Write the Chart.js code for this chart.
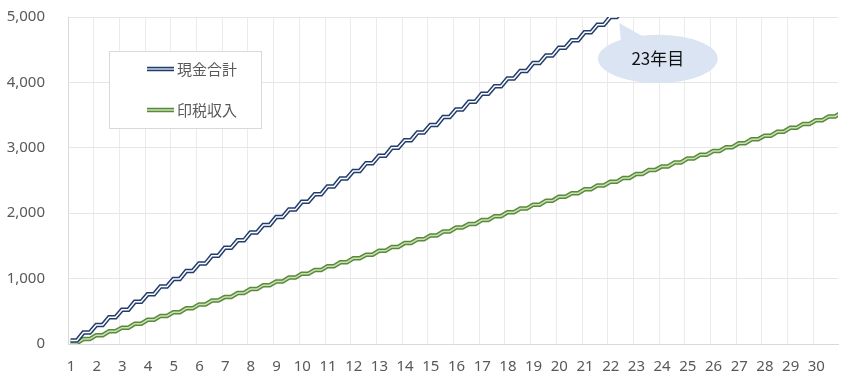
<!DOCTYPE html>
<html lang="ja">
<head>
    <meta charset="UTF-8">
    <title>現金合計と印税収入</title>
    <script src="https://cdn.jsdelivr.net/npm/chart.js"></script>
    <style>
        html, body { margin: 0; padding: 0; background: #fff; }
        #wrap { width: 846px; height: 381px; }
    </style>
</head>
<body>
    <div id="wrap"><canvas id="chart" width="846" height="381"></canvas></div>

    <script>
        // year labels on the x axis
        const years = [1, 2, 3, 4, 5, 6, 7, 8, 9, 10, 11, 12, 13, 14, 15,
                       16, 17, 18, 19, 20, 21, 22, 23, 24, 25, 26, 27, 28, 29, 30];
        const yTicks = [0, 1000, 2000, 3000, 4000, 5000];
        const seriesNames = ['現金合計', '印税収入'];

        // values read every half year (year 1 onwards), held flat then rising
        const cashTotal = [55, 175, 290, 410, 525, 645, 760, 880, 995, 1115,
                           1230, 1350, 1470, 1585, 1705, 1820, 1940, 2055, 2175, 2290,
                           2410, 2530, 2645, 2765, 2880, 3000, 3115, 3235, 3350, 3470,
                           3585, 3705, 3825, 3940, 4060, 4175, 4295, 4410, 4530, 4645,
                           4765, 4880, 5000, 5120];
        const royalties = [15, 75, 135, 195, 250, 310, 370, 430, 485, 545,
                           605, 665, 720, 780, 840, 900, 955, 1015, 1075, 1130,
                           1190, 1250, 1310, 1365, 1425, 1485, 1545, 1600, 1660, 1720,
                           1780, 1835, 1895, 1955, 2015, 2070, 2130, 2190, 2250, 2305,
                           2365, 2425, 2480, 2540, 2600, 2660, 2715, 2775, 2835, 2895,
                           2950, 3010, 3070, 3130, 3185, 3245, 3305, 3365, 3420, 3480,
                           3540];

        const calloutText = '23年目';

        const firstPoint = 1.1;   // where the first half-year value sits on the year axis

        const textFont = '"Noto Sans", "Noto Sans CJK JP", sans-serif';
        const cjkFont = '"Noto Sans CJK JP", "Noto Sans", sans-serif';
        const tickColor = '#595959';

        const colors = {
            cash: { outer: '#223c6c', inner: '#ffffff', swatchInner: '#c9d5ea' },
            royalty: { outer: '#588a38', inner: '#c9e0b6', swatchInner: '#c9e0b6' }
        };

        function halfYearPoints(values) {
            const pts = [];
            values.forEach((v, k) => {
                const x = firstPoint + k * 0.5;
                pts.push({ x: x, y: v });
                pts.push({ x: x + 0.25, y: v });
            });
            return pts;
        }

        function lineSet(label, values, color, width, order) {
            return {
                label: label,
                data: halfYearPoints(values),
                borderColor: color,
                borderWidth: width,
                pointRadius: 0,
                tension: 0,
                fill: false,
                order: order
            };
        }

        // legend box and speech bubble
        const decorPlugin = {
            id: 'decor',
            afterDatasetsDraw(chart) {
                const ctx = chart.ctx;
                const xs = chart.scales.x, ys = chart.scales.y;

                // legend
                ctx.save();
                ctx.strokeStyle = '#d9d9d9';
                ctx.lineWidth = 1;
                ctx.fillStyle = '#ffffff';
                ctx.fillRect(109.5, 51.5, 152, 77);
                ctx.strokeRect(109.5, 51.5, 152, 77);
                const entries = [
                    { name: seriesNames[0], c: colors.cash, y: 69 },
                    { name: seriesNames[1], c: colors.royalty, y: 110 }
                ];
                entries.forEach(e => {
                    ctx.beginPath();
                    ctx.moveTo(147, e.y);
                    ctx.lineTo(174, e.y);
                    ctx.strokeStyle = e.c.outer;
                    ctx.lineWidth = 4.5;
                    ctx.stroke();
                    ctx.strokeStyle = e.c.swatchInner;
                    ctx.lineWidth = 1.5;
                    ctx.stroke();
                    ctx.fillStyle = tickColor;
                    ctx.font = '15px ' + cjkFont;
                    ctx.textBaseline = 'middle';
                    ctx.textAlign = 'left';
                    ctx.fillText(e.name, 177, e.y);
                });

                // callout, anchored in data units
                const cx = xs.getPixelForValue(23.95);
                const cy = ys.getPixelForValue(4360);
                const rx = xs.getPixelForValue(23.95 + 2.33) - cx;
                const ry = cy - ys.getPixelForValue(4360 + 370);
                const tipX = xs.getPixelForValue(22.45);
                const tipY = ys.getPixelForValue(4910);
                const a1 = 232 * Math.PI / 180, a2 = 257 * Math.PI / 180;

                ctx.fillStyle = '#dae4f2';
                ctx.beginPath();
                ctx.ellipse(cx, cy, rx, ry, 0, 0, Math.PI * 2);
                ctx.fill();
                ctx.beginPath();
                ctx.moveTo(cx + rx * Math.cos(a1), cy + ry * Math.sin(a1) + 2);
                ctx.lineTo(tipX, tipY);
                ctx.lineTo(cx + rx * Math.cos(a2), cy + ry * Math.sin(a2) + 2);
                ctx.closePath();
                ctx.fill();

                ctx.fillStyle = '#111111';
                ctx.font = '17px ' + cjkFont;
                ctx.textAlign = 'center';
                ctx.textBaseline = 'middle';
                ctx.fillText(calloutText, cx, cy);
                ctx.restore();
            }
        };

        new Chart(document.getElementById('chart'), {
            type: 'line',
            data: {
                datasets: [
                    lineSet(seriesNames[0], cashTotal, colors.cash.inner, 1.5, 0),
                    lineSet(seriesNames[0], cashTotal, colors.cash.outer, 4.5, 1),
                    lineSet(seriesNames[1], royalties, colors.royalty.inner, 1.5, 2),
                    lineSet(seriesNames[1], royalties, colors.royalty.outer, 4.5, 3)
                ]
            },
            options: {
                responsive: false,
                animation: false,
                devicePixelRatio: 1,
                layout: { padding: { top: 17, right: 8, left: 0, bottom: 0 } },
                plugins: {
                    legend: { display: false },
                    tooltip: { enabled: false }
                },
                scales: {
                    x: {
                        type: 'linear',
                        min: 1,
                        max: 30.96,
                        afterBuildTicks: s => { s.ticks = years.map(v => ({ value: v })); },
                        afterFit: s => { s.height = 37; s.paddingLeft = 0; s.paddingRight = 0; },
                        ticks: {
                            autoSkip: false,
                            maxRotation: 0,
                            padding: 14,
                            labelOffset: 3,
                            color: tickColor,
                            font: { family: textFont, size: 15 },
                            callback: v => String(v)
                        },
                        grid: { color: '#ebebeb', drawTicks: false },
                        border: { color: '#d9d9d9' }
                    },
                    y: {
                        min: 0,
                        max: 5000,
                        afterBuildTicks: s => { s.ticks = yTicks.map(v => ({ value: v })); },
                        afterFit: s => { s.width = 68; s.paddingTop = 0; s.paddingBottom = 0; },
                        ticks: {
                            padding: 23,
                            color: tickColor,
                            font: { family: textFont, size: 15 },
                            callback: v => v.toLocaleString('en-US')
                        },
                        grid: { color: '#e6e6e6', drawTicks: false },
                        border: { color: '#d9d9d9' }
                    }
                }
            },
            plugins: [decorPlugin]
        });
    </script>
</body>
</html>
